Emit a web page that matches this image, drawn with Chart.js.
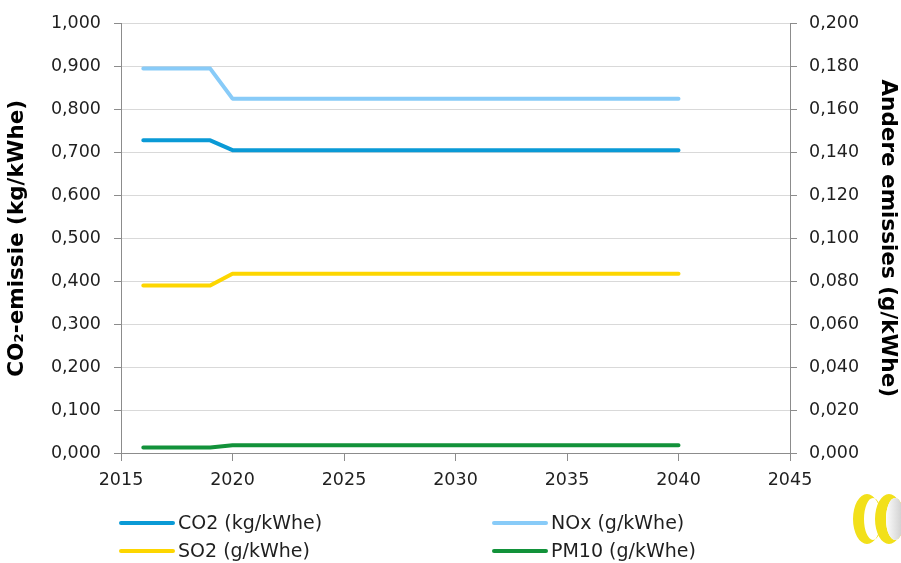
<!DOCTYPE html>
<html>
<head>
<meta charset="utf-8">
<script src="https://cdn.jsdelivr.net/npm/chart.js@4.4.1/dist/chart.umd.min.js"></script>
<style>
  html, body { margin: 0; padding: 0; background: #ffffff; }
  #wrap { width: 901px; height: 563px; position: relative; }
</style>
</head>
<body>
<div id="wrap"><canvas id="c" width="901" height="563"></canvas></div>
<script>
// Emission factors per year
const years = [2016, 2017, 2018, 2019, 2020, 2021, 2022, 2023, 2024, 2025, 2026, 2027, 2028,
               2029, 2030, 2031, 2032, 2033, 2034, 2035, 2036, 2037, 2038, 2039, 2040];
const co2 = [0.728, 0.728, 0.728, 0.728, 0.705, 0.705, 0.705, 0.705, 0.705, 0.705, 0.705, 0.705, 0.705,
             0.705, 0.705, 0.705, 0.705, 0.705, 0.705, 0.705, 0.705, 0.705, 0.705, 0.705, 0.705];
const nox = [0.179, 0.179, 0.179, 0.179, 0.165, 0.165, 0.165, 0.165, 0.165, 0.165, 0.165, 0.165, 0.165,
             0.165, 0.165, 0.165, 0.165, 0.165, 0.165, 0.165, 0.165, 0.165, 0.165, 0.165, 0.165];
const so2 = [0.078, 0.078, 0.078, 0.078, 0.0835, 0.0835, 0.0835, 0.0835, 0.0835, 0.0835, 0.0835, 0.0835, 0.0835,
             0.0835, 0.0835, 0.0835, 0.0835, 0.0835, 0.0835, 0.0835, 0.0835, 0.0835, 0.0835, 0.0835, 0.0835];
const pm10 = [0.0026, 0.0026, 0.0026, 0.0026, 0.0036, 0.0036, 0.0036, 0.0036, 0.0036, 0.0036, 0.0036, 0.0036, 0.0036,
              0.0036, 0.0036, 0.0036, 0.0036, 0.0036, 0.0036, 0.0036, 0.0036, 0.0036, 0.0036, 0.0036, 0.0036];

const seriesLabels = ['CO2 (kg/kWhe)', 'NOx (g/kWhe)', 'SO2 (g/kWhe)', 'PM10 (g/kWhe)'];
const leftTitle = 'CO\u2082-emissie (kg/kWhe)';
const rightTitle = 'Andere emissies (g/kWhe)';

const FONT = '"DejaVu Sans", "Liberation Sans", sans-serif';
const TEXT = '#1f1f1f';
const AXIS = '#8c8c8c';
const GRID = '#d9d9d9';

const pts = (vals) => years.map((y, i) => ({ x: y, y: vals[i] }));
const comma = (v) => Number(v).toFixed(3).replace('.', ',');

// Legend in two columns below the plot, and the emblem in the corner
const extras = {
  id: 'extras',
  afterDraw(chart) {
    const ctx = chart.ctx;
    const ds = chart.data.datasets;
    const slots = [
      { i: 0, x: 121, y: 523 },
      { i: 1, x: 494, y: 523 },
      { i: 2, x: 121, y: 551 },
      { i: 3, x: 494, y: 551 }
    ];
    ctx.save();
    ctx.font = '19px ' + FONT;
    ctx.textBaseline = 'middle';
    ctx.textAlign = 'left';
    slots.forEach(s => {
      const d = ds[s.i];
      ctx.strokeStyle = d.borderColor;
      ctx.lineWidth = 4;
      ctx.lineCap = 'round';
      ctx.beginPath();
      ctx.moveTo(s.x, s.y);
      ctx.lineTo(s.x + 52, s.y);
      ctx.stroke();
      ctx.fillStyle = TEXT;
      ctx.fillText(d.label, s.x + 57, s.y + 1);
    });

    // emblem: two tilted rings
    const ring = (cx, cy, inner) => {
      ctx.beginPath();
      ctx.ellipse(cx, cy, 14, 25, 0, 0, Math.PI * 2);
      ctx.ellipse(cx + 6, cy, 9, 21, 0, 0, Math.PI * 2);
      ctx.fillStyle = '#f2e01a';
      ctx.fill('evenodd');
      if (inner) {
        ctx.beginPath();
        ctx.ellipse(cx + 6, cy, 9, 21, 0, 0, Math.PI * 2);
        const g = ctx.createLinearGradient(cx - 4, 0, cx + 16, 0);
        g.addColorStop(0, '#ffffff');
        g.addColorStop(1, '#c8c8c8');
        ctx.fillStyle = g;
        ctx.fill();
      }
    };
    ring(867, 519, false);
    ring(889, 519, true);
    ctx.restore();
  }
};

new Chart(document.getElementById('c'), {
  type: 'line',
  data: {
    datasets: [
      { label: seriesLabels[0], data: pts(co2), borderColor: '#0a9ad6', yAxisID: 'yL' },
      { label: seriesLabels[1], data: pts(nox), borderColor: '#88cbf8', yAxisID: 'yR' },
      { label: seriesLabels[2], data: pts(so2), borderColor: '#fdd600', yAxisID: 'yR' },
      { label: seriesLabels[3], data: pts(pm10), borderColor: '#12923a', yAxisID: 'yR' }
    ].map(d => Object.assign(d, {
      borderWidth: 4, pointRadius: 0, tension: 0, fill: false,
      borderCapStyle: 'round', borderJoinStyle: 'round'
    }))
  },
  plugins: [extras],
  options: {
    responsive: false,
    animation: false,
    events: [],
    layout: { padding: { top: 21, bottom: 70, left: 0, right: 0 } },
    plugins: { legend: { display: false }, tooltip: { enabled: false } },
    scales: {
      x: {
        type: 'linear', min: 2015, max: 2045,
        afterFit: (s) => { s.height = 40; },
        border: { color: AXIS, width: 1 },
        grid: { drawOnChartArea: false, drawTicks: true, tickLength: 8, tickColor: AXIS },
        ticks: {
          stepSize: 5, padding: 9, color: TEXT, font: { family: FONT, size: 17.5 },
          callback: (v) => String(v)
        }
      },
      yL: {
        position: 'left', min: 0, max: 1,
        afterFit: (s) => { s.width = 121; },
        border: { color: AXIS, width: 1 },
        grid: { color: GRID, lineWidth: 1, drawTicks: true, tickLength: 7, tickColor: AXIS },
        ticks: {
          stepSize: 0.1, padding: 13, color: TEXT, font: { family: FONT, size: 17.5 },
          callback: (v) => comma(v)
        },
        title: {
          display: true, text: leftTitle, color: '#000000',
          font: { family: FONT, size: 21.5, weight: 'bold' }, padding: { top: 5, bottom: 0 }
        }
      },
      yR: {
        position: 'right', min: 0, max: 0.2,
        afterFit: (s) => { s.width = 111; },
        border: { color: AXIS, width: 1 },
        grid: { drawOnChartArea: false, drawTicks: true, tickLength: 7, tickColor: AXIS },
        ticks: {
          stepSize: 0.02, padding: 12, color: TEXT, font: { family: FONT, size: 17.5 },
          callback: (v) => comma(v)
        },
        title: {
          display: true, text: rightTitle, color: '#000000',
          font: { family: FONT, size: 21.5, weight: 'bold' }, padding: { top: 1, bottom: 0 }
        }
      }
    }
  }
});
</script>
</body>
</html>
